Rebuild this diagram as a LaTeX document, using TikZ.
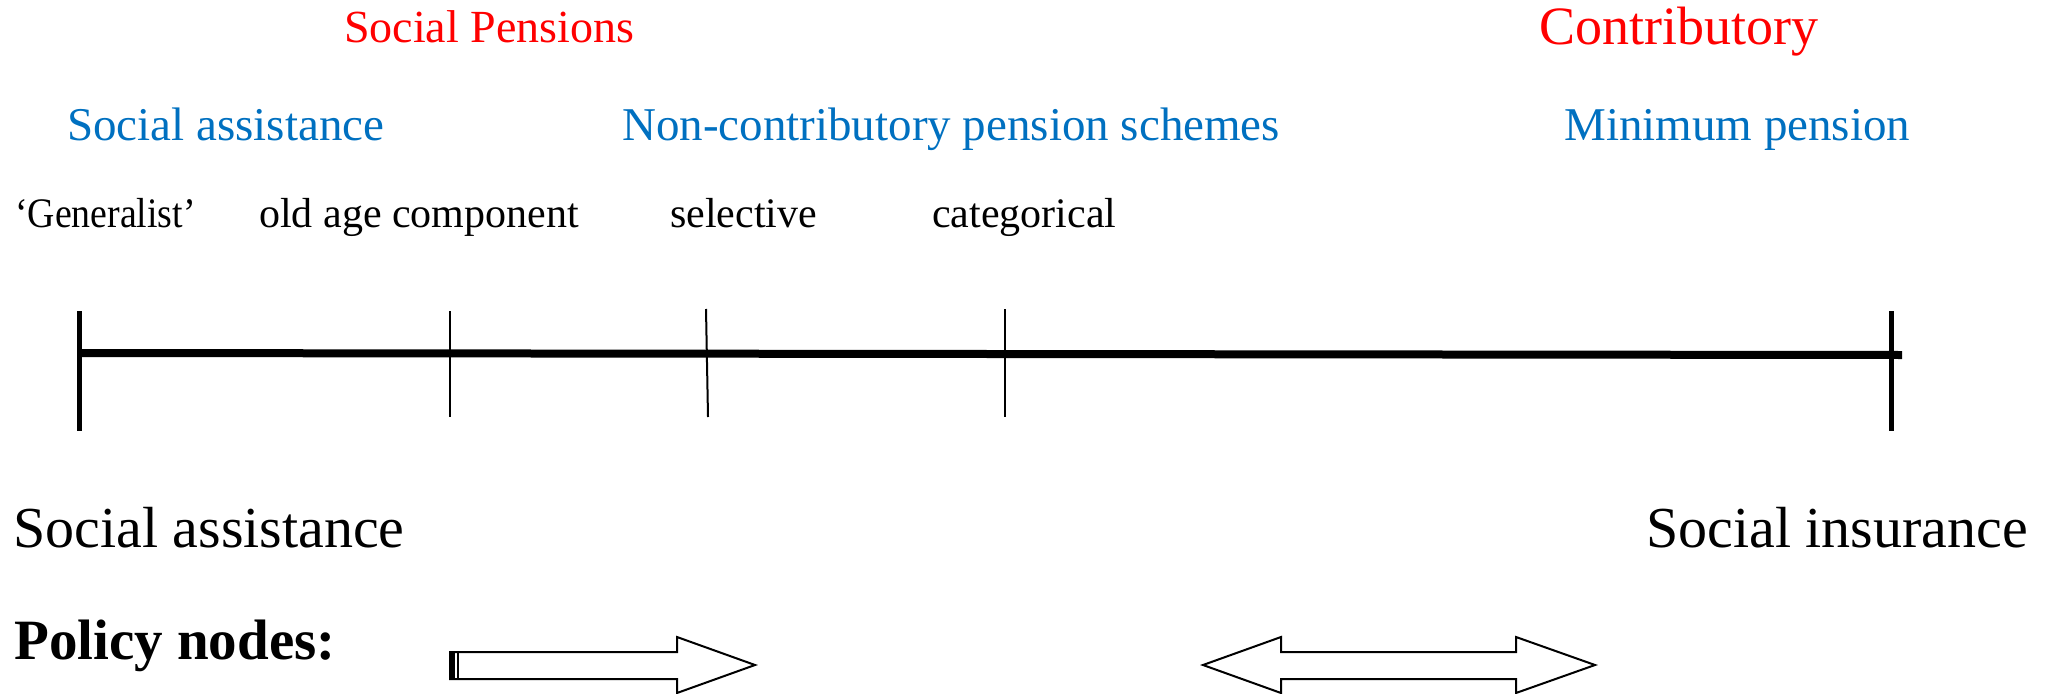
\documentclass[tikz,border=0pt]{standalone}
\usepackage{fontspec}
\setmainfont{Liberation Serif}
\definecolor{pred}{RGB}{255,0,0}
\definecolor{pblue}{RGB}{0,112,192}
\begin{document}
\begin{tikzpicture}[x=1pt,y=-1pt,
  lbl/.style={inner sep=0pt, anchor=base west},
  hdr/.style={lbl, text=pred},
  sub/.style={lbl, text=pblue, font=\fontsize{47}{52}\selectfont},
  kind/.style={lbl, font=\fontsize{42}{48}\selectfont},
  pole/.style={lbl, font=\fontsize{58}{64}\selectfont},
  axisline/.style={line width=8pt},
  endtick/.style={line width=5pt},
  midtick/.style={line width=2pt},
  arrowshape/.style={draw, line width=2pt, fill=white, line join=miter}]
\useasboundingbox (0,0) rectangle (2052,693);

% headers
\node[hdr, font=\fontsize{46}{52}\selectfont] (sp) at (344,43) {Social Pensions};
\node[hdr, font=\fontsize{54}{60}\selectfont] (contr) at (1539,45) {Contributory};

\node[sub] (sa) at (67,140) {Social assistance};
\node[sub] (nc) at (622,140) {Non-contributory pension schemes};
\node[sub] (mp) at (1564,140) {Minimum pension};

\node[kind] (gen) at (15,227) {\scalebox{0.9}[1]{‘Generalist’}};
\node[kind] (oac) at (259,227) {old age component};
\node[kind] (sel) at (670,227) {selective};
\node[kind] (cat) at (932,227) {categorical};

% axis
\coordinate (aL) at (79,353);
\coordinate (aR) at (1902,355);
\draw[axisline] (aL) -- (aR);
\coordinate (t1a) at (79,311);   \coordinate (t1b) at (79,431);
\coordinate (t2a) at (450,311);  \coordinate (t2b) at (450,417);
\coordinate (t3a) at (706,309);  \coordinate (t3b) at (708,417);
\coordinate (t4a) at (1005,309); \coordinate (t4b) at (1005,417);
\coordinate (t5a) at (1891,311); \coordinate (t5b) at (1891,431);
\draw[endtick] (t1a) -- (t1b);
\draw[endtick] (t5a) -- (t5b);
\draw[midtick] (t2a) -- (t2b);
\draw[midtick] (t3a) -- (t3b);
\draw[midtick] (t4a) -- (t4b);

% poles
\node[pole] (psa) at (13,547) {Social assistance};
\node[pole] (psi) at (1646,547) {Social insurance};
\node[pole, font=\fontsize{57}{62}\selectfont\bfseries] (pn) at (14,659) {Policy nodes:};

% single arrow
\draw[arrowshape] (450,652) -- (677,652) -- (677,637) -- (755,665) -- (677,693) -- (677,679) -- (450,679) -- cycle;
\fill (450,652) rectangle (455,679);
\draw[line width=1.5pt] (458,652) -- (458,679);

% double arrow
\draw[arrowshape] (1203,665) -- (1281,637) -- (1281,652) -- (1516,652) -- (1516,637) -- (1595,665)
  -- (1516,693) -- (1516,679) -- (1281,679) -- (1281,693) -- cycle;
\end{tikzpicture}
\end{document}
